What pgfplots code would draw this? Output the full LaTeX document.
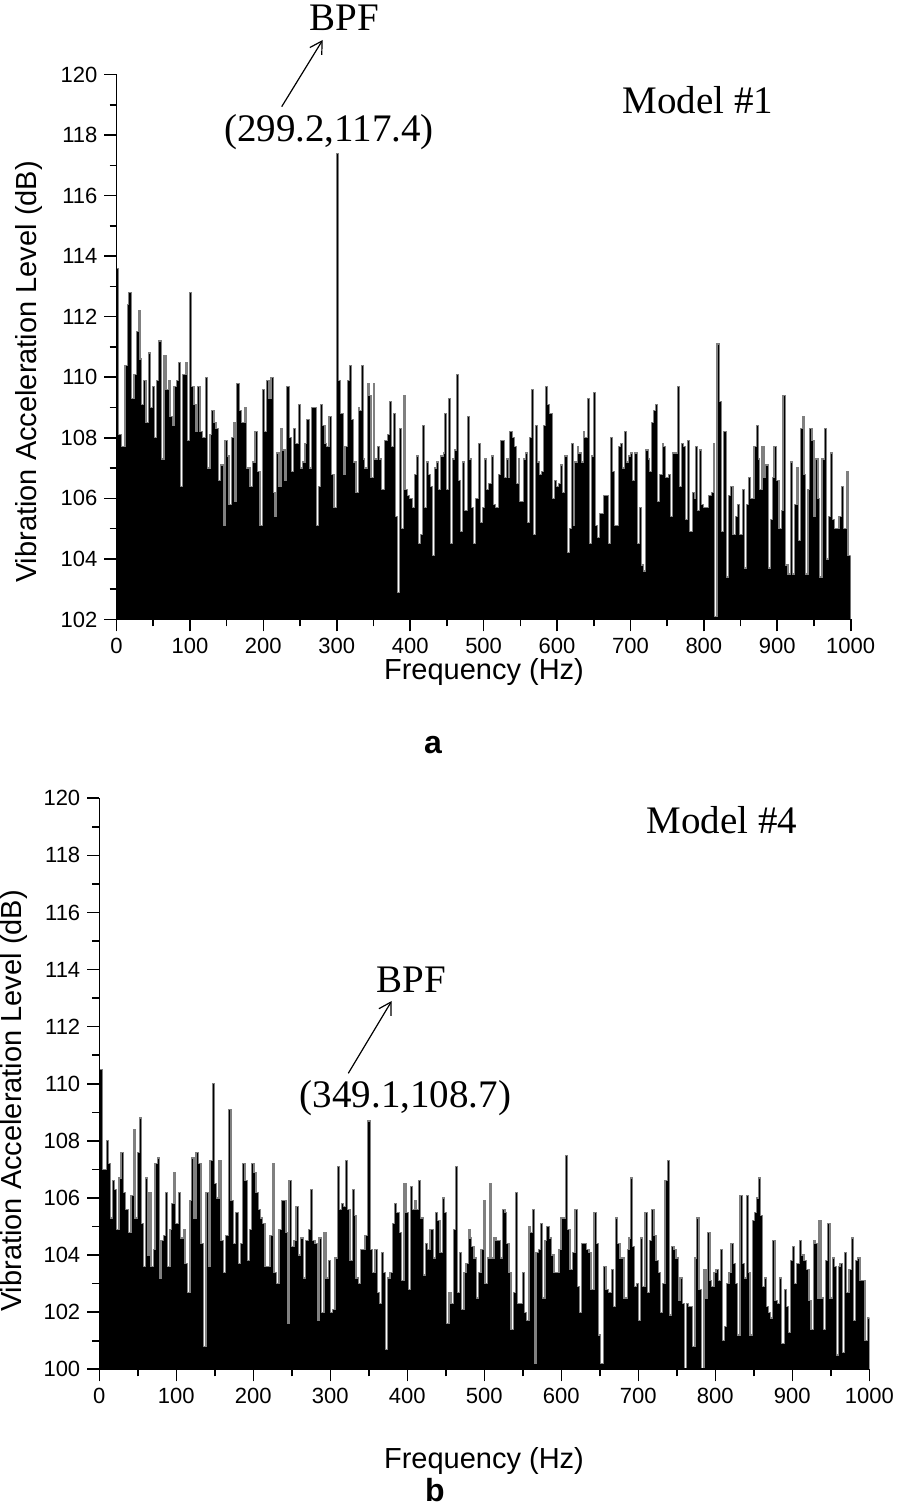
\documentclass[border=0pt]{standalone}
\usepackage{fontspec}
\setmainfont{Liberation Sans}
\newfontfamily\annfont{Liberation Serif}
\usepackage{pgfplots}
\pgfplotsset{compat=1.18}
\usetikzlibrary{arrows.meta}
\definecolor{edgegray}{RGB}{128,128,128}
\pgfplotsset{
  spec/.style={
    scale only axis,
    anchor=south west,
    axis x line*=bottom, axis y line*=left,
    axis line style={-, line width=0.8pt},
    tick style={line width=0.8pt, black},
    tick align=outside,
    major tick length=6pt, minor tick length=3.5pt,
    xmin=0, xmax=1000,
    xtick={0,100,...,1000}, minor x tick num=1,
    minor y tick num=1,
    tick label style={font=\fontsize{11}{13}\selectfont},
    /pgf/number format/assume math mode=true,
    /pgf/number format/1000 sep={},
    clip=true,
    axis on top,
  },
  bars/.style={const plot, fill=black, draw=edgegray, line width=0.6pt, mark=none},
}
\tikzset{txt/.style={inner sep=0pt}}
\begin{document}
\begin{tikzpicture}[x=0.5pt,y=0.5pt]
\path[use as bounding box] (0,0) rectangle (896,1507);
% ---------------- panel a ----------------
\begin{axis}[spec, at={(58.25pt,443.75pt)}, width=367.1pt, height=272.5pt,
  ymin=102, ymax=120, ytick={102,104,...,120}]
\addplot[bars] coordinates {
(0,113.6)(2.5,108.1)(7.0,107.7)(11.6,110.4)(14.8,112.4)(16.1,112.8)(20.6,109.3)(23.8,110.1)(27.5,111.5)(29.7,112.2)
(32.0,110.6)(34.3,109.1)(36.5,109.9)(40.2,108.5)(43.3,110.8)(46.5,109.0)(48.8,109.7)(51.5,108.0)(54.7,109.9)(57.0,111.2)
(61.5,107.3)(64.7,110.7)(67.4,109.6)(70.6,109.9)(72.8,108.7)(76.0,108.4)(78.3,109.7)(81.9,109.9)(84.2,110.5)(87.4,106.4)
(90.1,110.1)(94.6,110.5)(96.9,107.9)(99.2,112.8)(102.3,109.7)(105.5,109.1)(108.2,108.2)(110.5,109.7)(113.7,108.2)(117.3,108.0)
(121.4,110.0)(123.7,107.0)(127.3,108.1)(129.6,108.9)(132.7,108.5)(135.5,108.3)(138.6,106.6)(141.8,107.1)(145.4,105.1)(147.7,107.9)
(150.9,107.4)(153.2,105.8)(156.8,108.0)(160.0,108.5)(161.3,105.9)(163.6,109.8)(167.2,108.9)(170.4,108.5)(174.9,109.0)(177.2,107.0)
(181.7,106.4)(185.4,107.2)(188.6,108.2)(191.7,106.9)(195.4,105.1)(198.5,109.6)(201.3,108.2)(204.4,109.9)(207.6,109.3)(210.3,110.0)
(213.5,106.2)(215.8,105.4)(218.0,107.5)(221.2,106.4)(224.0,108.3)(226.2,107.6)(229.4,106.6)(231.7,109.7)(235.3,108.0)(238.5,106.9)
(240.7,108.3)(243.9,107.8)(247.5,109.1)(250.7,107.0)(253.4,107.2)(256.6,107.8)(258.9,108.6)(262.5,107.0)(265.7,109.0)(268.9,109.0)
(272.5,105.1)(274.8,106.4)(278.0,109.1)(280.7,108.4)(283.9,107.8)(286.1,107.7)(289.3,108.7)(293.0,106.8)(296.1,105.7)(299.2,117.4)
(302.0,109.9)(305.2,108.8)(308.8,106.8)(311.1,107.7)(314.3,109.9)(317.0,110.4)(320.2,108.6)(323.0,107.2)(326.1,106.2)(329.2,109.0)
(331.5,108.9)(333.8,110.4)(336.0,107.3)(338.3,107.0)(341.5,109.8)(343.8,109.4)(346.5,106.7)(349.7,109.8)(351.9,107.3)(355.1,107.7)
(357.8,107.3)(361.0,106.3)(365.5,107.9)(368.7,108.1)(371.4,109.2)(374.6,107.7)(376.9,108.8)(380.1,105.4)(382.3,102.9)(385.1,108.3)
(388.2,105.0)(390.5,109.4)(392.8,106.3)(396.0,106.1)(399.6,106.0)(402.8,105.7)(405.5,106.8)(408.7,107.4)(410.9,104.5)(414.1,104.8)
(416.8,108.4)(420.0,105.7)(422.3,107.2)(425.4,106.8)(428.2,106.4)(430.4,104.1)(432.7,107.0)(435.9,107.2)(438.2,106.3)(441.8,107.4)
(445.0,107.5)(447.2,108.8)(449.5,106.3)(452.7,109.3)(455.4,104.5)(457.7,107.3)(460.8,107.6)(463.1,110.1)(465.4,106.6)(468.6,104.9)
(470.8,107.2)(474.5,105.6)(477.6,108.7)(480.4,107.3)(483.5,105.7)(486.7,104.5)(489.4,106.0)(492.6,107.8)(495.3,105.2)(498.1,105.7)
(501.7,107.3)(504.0,106.3)(507.1,106.5)(510.8,107.4)(513.0,105.8)(516.2,105.7)(519.8,106.8)(523.0,107.9)(525.7,107.9)(528.9,106.7)
(531.2,107.3)(533.4,106.7)(535.7,108.2)(538.9,108.0)(541.6,107.7)(544.8,106.5)(547.1,107.3)(549.3,105.9)(553.9,107.3)(557.0,107.5)
(559.8,105.2)(562.0,108.0)(565.2,109.6)(567.5,104.8)(571.1,108.4)(573.4,107.2)(575.7,106.8)(578.8,106.9)(581.6,108.4)(584.3,109.7)
(587.0,109.1)(590.2,108.8)(593.4,106.0)(596.1,106.6)(599.3,106.4)(602.4,106.5)(605.1,107.1)(607.4,106.2)(610.6,107.4)(614.2,104.2)
(616.5,105.0)(619.7,107.8)(622.0,105.1)(624.2,107.2)(627.4,107.7)(629.7,107.5)(633.3,107.2)(635.6,108.2)(637.8,108.0)(641.0,109.3)
(643.7,104.5)(646.9,107.4)(649.2,109.5)(652.3,105.1)(655.1,104.7)(658.2,105.5)(662.8,106.1)(666.5,106.1)(669.6,104.5)(672.8,108.0)
(675.5,106.9)(678.7,105.1)(681.0,105.1)(684.2,107.7)(686.9,107.8)(688.7,107.0)(691.4,108.2)(694.6,107.2)(697.8,107.4)(700.5,107.5)
(702.8,106.6)(706.0,107.5)(709.1,104.5)(711.9,105.7)(715.0,103.8)(718.2,103.6)(720.9,107.6)(724.1,107.3)(726.4,106.9)(728.6,108.5)
(730.9,108.9)(734.1,109.1)(736.4,105.9)(740.0,106.8)(743.2,107.8)(745.4,107.7)(748.2,106.7)(751.3,106.8)(754.5,105.4)(757.2,107.5)
(760.4,107.5)(764.0,109.7)(766.3,106.4)(769.5,107.8)(771.8,107.7)(774.9,105.3)(777.7,107.9)(780.8,104.9)(784.0,106.2)(786.7,106.0)
(789.0,107.7)(791.3,105.6)(794.4,107.6)(796.7,105.8)(799.0,105.7)(802.6,105.7)(805.8,106.1)(810.3,106.2)(812.6,107.8)(814.9,102.1)
(818.0,111.1)(820.8,109.2)(823.9,104.9)(827.1,108.2)(830.7,103.4)(833.9,106.1)(836.6,106.4)(839.8,104.8)(843.0,105.4)(845.7,105.8)
(848.9,104.8)(852.1,106.3)(854.8,103.7)(858.0,105.8)(861.2,106.7)(863.9,106.0)(866.1,106.0)(868.4,107.7)(871.6,108.4)(873.9,107.3)
(876.1,106.3)(879.3,107.7)(882.0,106.7)(884.3,107.1)(887.5,103.7)(890.6,105.3)(893.4,106.7)(895.6,107.7)(898.8,106.6)(902.4,105.0)
(905.6,105.6)(907.9,109.4)(911.1,103.8)(914.7,103.5)(917.9,107.2)(920.6,103.5)(923.8,105.8)(926.9,107.0)(929.2,104.6)(931.9,108.3)
(934.2,108.7)(936.5,106.8)(938.7,103.5)(941.9,106.3)(944.2,108.3)(947.4,107.9)(950.1,105.4)(952.4,107.3)(955.5,106.0)(957.8,103.4)
(961.0,107.3)(964.6,108.3)(966.9,104.0)(970.1,105.4)(972.8,107.5)(975.1,105.3)(978.2,105.0)(981.4,105.0)(984.1,105.4)(987.3,106.4)
(990.5,105.0)(994.1,106.9)(996.4,104.1)(1000,104.1)
} \closedcycle;
\end{axis}
% ---------------- panel b ----------------
\begin{axis}[spec, at={(49.65pt,68.85pt)}, width=385pt, height=285.5pt,
  ymin=100, ymax=120, ytick={100,102,...,120}]
\addplot[bars] coordinates {
(0,110.5)(3.9,107.0)(9.6,108.0)(11.7,107.2)(14.8,105.3)(16.9,106.6)(19.5,106.3)(22.6,104.9)(25.6,106.7)(28.2,107.6)
(31.2,106.2)(34.2,105.6)(37.7,104.8)(41.2,106.1)(44.2,108.4)(46.4,105.3)(49.4,107.6)(52.0,108.8)(55.0,105.1)(57.2,103.6)
(60.2,106.7)(62.4,104.0)(64.6,106.2)(67.1,103.6)(70.2,104.2)(72.3,107.2)(75.4,107.4)(77.9,103.2)(80.1,104.5)(83.2,104.7)
(86.2,106.2)(88.8,103.6)(91.8,104.9)(94.0,105.8)(97.0,106.9)(99.2,105.1)(102.6,106.2)(105.7,104.6)(109.1,104.9)(111.3,103.7)
(114.8,102.7)(117.8,105.9)(120.0,107.4)(123.0,105.3)(125.6,107.6)(128.6,107.2)(132.1,104.4)(135.1,100.8)(138.6,106.2)(141.6,103.6)
(143.8,107.3)(146.8,110.0)(149.4,106.5)(152.4,106.0)(155.5,107.3)(158.1,104.5)(161.1,103.4)(164.1,104.7)(167.6,109.1)(171.0,105.9)
(174.1,104.4)(177.1,105.5)(180.6,103.7)(183.6,104.4)(186.2,107.2)(189.2,106.6)(192.3,103.8)(194.9,104.9)(197.9,107.2)(200.9,106.9)
(203.5,106.2)(206.5,105.6)(209.6,105.3)(212.2,105.1)(215.2,103.6)(218.2,103.6)(221.7,104.7)(224.7,107.2)(226.9,103.4)(230.3,103.0)
(233.4,104.9)(236.8,105.9)(239.9,105.9)(242.5,104.8)(244.6,101.6)(246.4,106.6)(249.8,104.3)(252.9,104.5)(255.5,105.7)(258.5,104.0)
(261.5,104.6)(265.0,103.2)(268.0,104.5)(271.5,104.9)(274.5,106.3)(277.1,104.5)(280.1,104.4)(283.2,101.7)(285.3,104.6)(288.8,102.0)
(291.8,104.8)(294.4,103.2)(297.5,103.8)(300.5,102.0)(303.1,102.1)(306.1,103.9)(309.1,107.1)(311.7,105.6)(314.8,105.8)(316.9,105.7)
(319.9,107.3)(322.6,105.6)(325.6,103.8)(328.6,106.3)(331.2,105.4)(333.4,103.2)(336.4,103.0)(339.5,104.2)(342.1,104.2)(345.1,104.7)
(348.4,108.7)(352.4,104.2)(355.0,103.4)(358.1,104.2)(361.1,102.7)(363.7,102.3)(366.7,104.1)(368.9,103.4)(371.9,100.7)(374.5,103.2)
(377.5,103.4)(380.6,105.1)(383.2,105.8)(386.2,105.5)(389.7,104.8)(392.7,103.1)(395.7,106.5)(398.3,105.5)(401.4,102.8)(404.4,106.4)
(407.0,105.6)(410.0,105.9)(412.2,105.6)(414.3,106.6)(417.4,105.3)(420.8,103.3)(423.9,104.4)(426.5,104.2)(429.5,104.9)(431.7,104.9)
(433.8,103.9)(436.9,105.5)(439.5,105.2)(442.5,104.1)(445.5,106.0)(448.1,105.5)(451.1,101.6)(454.2,102.7)(456.8,102.3)(459.8,104.9)
(462.8,107.1)(465.0,102.7)(467.6,104.1)(470.6,102.1)(473.7,103.4)(476.2,103.7)(479.3,104.9)(481.4,104.6)(483.6,104.3)(486.6,103.9)
(490.1,102.5)(492.7,103.4)(495.7,104.2)(498.8,105.9)(500.9,103.0)(504.0,103.9)(507.4,106.5)(509.6,103.9)(512.6,104.6)(515.2,104.5)
(518.2,104.5)(521.3,103.9)(523.9,105.6)(526.9,105.5)(529.1,104.4)(532.1,103.4)(534.7,101.4)(537.7,102.7)(540.8,106.2)(543.4,102.3)
(546.4,102.3)(549.4,103.4)(552.0,102.0)(555.0,101.7)(558.1,105.0)(560.2,104.8)(562.8,105.6)(565.0,100.2)(567.2,104.1)(570.2,104.2)
(573.2,105.1)(575.8,102.5)(578.9,104.5)(581.0,105.0)(584.5,104.6)(587.5,104.0)(590.5,103.4)(594.0,103.4)(597.0,104.2)(599.6,105.3)
(602.7,105.3)(605.7,107.5)(608.3,104.9)(611.3,103.5)(614.3,104.1)(617.8,105.6)(620.8,102.9)(623.4,102.0)(626.5,104.4)(628.6,104.4)
(633.0,104.2)(636.0,104.1)(638.6,102.8)(642.5,105.5)(646.0,104.4)(648.1,101.2)(651.1,100.2)(654.6,103.6)(658.1,102.8)(661.1,102.7)
(665.5,103.5)(667.6,102.2)(670.7,105.3)(673.2,104.4)(676.3,103.9)(678.4,103.9)(681.5,102.5)(683.6,102.5)(685.8,104.2)(688.0,104.6)
(690.1,106.7)(692.7,104.3)(694.9,102.9)(697.9,103.0)(700.1,101.7)(703.1,104.6)(705.7,102.9)(708.7,105.5)(711.8,102.7)(714.4,104.5)
(717.4,105.6)(720.4,104.7)(723.0,103.8)(726.1,103.4)(729.1,102.0)(731.7,103.0)(734.7,106.6)(737.8,107.3)(740.4,101.9)(743.4,104.3)
(746.4,104.2)(749.0,103.9)(752.0,102.4)(754.2,103.2)(757.2,102.3)(759.8,100.0)(762.9,102.3)(765.0,102.2)(768.5,102.2)(770.7,100.8)
(773.7,103.9)(775.8,105.3)(778.9,102.8)(782.3,100.0)(785.4,103.5)(788.0,102.5)(790.1,104.8)(793.2,103.1)(795.3,102.9)(798.4,103.4)
(801.0,103.5)(804.0,103.1)(807.0,104.2)(809.6,101.0)(811.8,101.5)(814.8,103.0)(817.8,103.4)(820.4,104.4)(823.5,103.7)(826.5,103.0)
(829.1,101.2)(832.1,106.1)(835.2,103.7)(837.8,103.2)(840.8,106.1)(843.0,103.4)(845.1,101.2)(848.1,105.2)(850.7,105.5)(853.8,106.0)
(855.9,106.7)(859.0,105.4)(861.6,102.9)(863.7,103.2)(866.8,102.2)(868.9,102.0)(872.0,101.8)(874.5,104.5)(877.6,102.4)(880.6,102.3)
(883.2,103.2)(886.2,100.9)(889.7,102.8)(892.7,102.2)(894.9,101.3)(897.9,103.8)(900.5,104.3)(902.7,103.0)(905.7,103.7)(909.2,104.5)
(912.2,104.0)(915.2,103.8)(918.7,103.5)(921.7,102.4)(924.3,101.4)(927.4,104.5)(929.5,104.4)(932.6,102.5)(934.7,105.2)(937.3,102.5)
(940.3,101.4)(943.4,103.8)(946.0,105.1)(949.0,102.5)(952.0,103.9)(954.6,103.6)(957.7,100.5)(959.8,103.6)(962.0,103.7)(965.0,100.6)
(967.6,104.1)(970.6,102.7)(973.7,103.5)(977.1,104.6)(979.3,101.7)(982.3,103.8)(984.9,103.9)(987.9,103.1)(991.0,103.1)(994.5,101.0)
(997.5,101.8)(1000,101.8)
} \closedcycle;
\end{axis}
% ---------------- text, panel a ----------------
\node[txt, rotate=90, font=\fontsize{14.5}{17}\selectfont] at (29,1135) {Vibration Acceleration Level (dB)};
\node[txt, font=\fontsize{14.5}{17}\selectfont] at (484,835) {Frequency (Hz)};
\node[txt, font=\fontsize{16}{19}\selectfont\bfseries] at (433,762) {a};
\node[txt, font=\annfont\fontsize{19.5}{23}\selectfont] at (344,1489) {BPF};
\node[txt, font=\annfont\fontsize{19.5}{23}\selectfont] at (329,1375) {(299.2,117.4)};
\draw[line width=0.6pt, -{Straight Barb[length=6pt,width=7pt]}] (281.7,1400.3) -- (322.7,1467);
\node[txt, font=\annfont\fontsize{19.5}{23}\selectfont] at (698,1407) {Model \#1};
% ---------------- text, panel b ----------------
\node[txt, rotate=90, font=\fontsize{14.5}{17}\selectfont] at (14,406) {Vibration Acceleration Level (dB)};
\node[txt, font=\fontsize{14.5}{17}\selectfont] at (484,46) {Frequency (Hz)};
\node[txt, font=\fontsize{16}{19}\selectfont\bfseries] at (435,17) {b};
\node[txt, font=\annfont\fontsize{19.5}{23}\selectfont] at (411,527) {BPF};
\node[txt, font=\annfont\fontsize{19.5}{23}\selectfont] at (405.5,409) {(349.1,108.7)};
\draw[line width=0.6pt, -{Straight Barb[length=6pt,width=7pt]}] (348.3,433.7) -- (391.7,506);
\node[txt, font=\annfont\fontsize{19.5}{23}\selectfont] at (722,687) {Model \#4};
\end{tikzpicture}
\end{document}
